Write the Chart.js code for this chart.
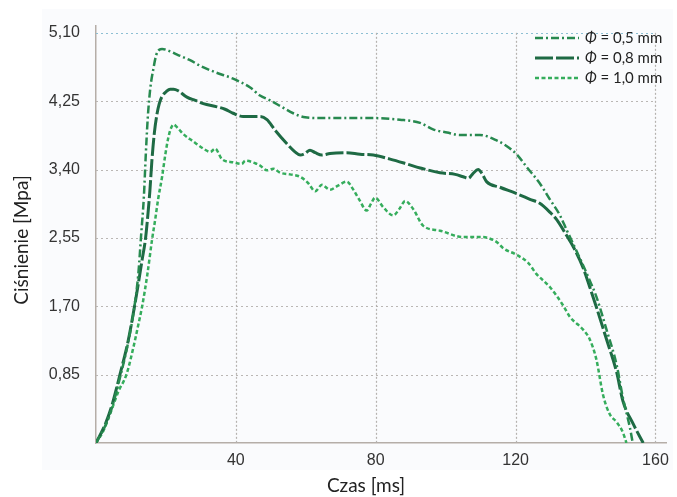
<!DOCTYPE html>
<html lang="pl">
<head>
<meta charset="utf-8">
<title>Ciśnienie</title>
<script src="https://cdn.jsdelivr.net/npm/chart.js@4.4.1/dist/chart.umd.min.js"></script>
<style>
  html, body { margin: 0; padding: 0; background: #fff; }
  #wrap { position: relative; width: 677px; height: 497px; }
</style>
</head>
<body>
<div id="wrap"><canvas id="pressureChart" width="677" height="497"></canvas></div>
<script>
// pressure curves, time in ms, pressure in MPa
var timeA = [0, 2.7, 4.7, 6.9, 9.2, 10.9, 12.1, 12.9, 13.7, 14.2, 14.8, 15.5, 16.4, 17.2, 18.1,
  18.9, 21.2, 23.2, 26.9, 29.8, 34.1, 39.2, 44.1, 46.9, 49.8, 52.7, 56.4, 59.8, 64.1, 71.2,
  79.2, 86.9, 92.7, 96.4, 100.4, 104.1, 109.8, 114.7, 117.5, 120.3, 123.2, 126.9, 129.8, 132.7,
  134.7, 137.5, 139.2, 141.2, 143.1, 146.0, 148.9, 150.7, 152.7, 153.5];
var pressureA = [0, 0.22, 0.46, 0.82, 1.25, 1.67, 2.10, 2.58, 3.07, 3.55, 4.04, 4.40, 4.65, 4.82, 4.89,
  4.90, 4.87, 4.83, 4.76, 4.69, 4.61, 4.53, 4.42, 4.32, 4.26, 4.19, 4.10, 4.05, 4.04, 4.04,
  4.04, 4.02, 3.98, 3.90, 3.86, 3.83, 3.83, 3.76, 3.69, 3.59, 3.43, 3.23, 3.03, 2.83,
  2.64, 2.38, 2.22, 2.02, 1.82, 1.41, 0.97, 0.56, 0.19, 0];

var timeB = [0, 2.7, 4.7, 6.9, 9.2, 10.9, 12.1, 13.2, 14.1, 14.7, 15.4, 16.0, 16.7, 17.4, 18.1,
  18.9, 20.1, 21.2, 22.2, 23.5, 26.0, 28.4, 30.7, 34.6, 36.9, 39.2, 42.1, 44.7, 46.9, 48.9,
  51.2, 54.6, 56.9, 58.4, 59.8, 61.2, 62.7, 64.6, 66.9, 71.7, 75.5, 79.3, 84.1, 88.9, 92.7,
  98.4, 102.7, 105.0, 106.5, 107.8, 109.3, 110.4, 111.7, 115.5, 120.3, 124.1, 126.9, 129.8, 131.7,
  134.6, 136.5, 139.3, 141.2, 143.1, 146.0, 148.9, 150.7, 153.6, 156.5];
var pressureB = [0, 0.24, 0.49, 0.86, 1.27, 1.67, 1.98, 2.28, 2.52, 2.77, 3.13, 3.52, 3.86, 4.08, 4.22,
  4.31, 4.37, 4.40, 4.40, 4.38, 4.30, 4.26, 4.22, 4.18, 4.15, 4.10, 4.06, 4.06, 4.06, 4.02,
  3.89, 3.72, 3.62, 3.58, 3.60, 3.64, 3.61, 3.58, 3.60, 3.61, 3.59, 3.58, 3.53, 3.47, 3.42,
  3.36, 3.34, 3.31, 3.29, 3.35, 3.40, 3.35, 3.25, 3.18, 3.10, 3.03, 2.98, 2.87, 2.78,
  2.58, 2.44, 2.18, 1.94, 1.69, 1.29, 0.88, 0.52, 0.24, 0];

var timeC = [0, 2.1, 4.1, 6.4, 8.7, 10.7, 12.1, 13.2, 14.7, 16.1, 16.9, 17.8, 18.9, 19.8, 20.7,
  21.5, 22.2, 23.5, 25.0, 27.8, 30.7, 32.7, 34.1, 36.0, 39.3, 41.7, 42.7, 46.0, 46.9, 48.9,
  50.7, 52.7, 55.5, 58.4, 60.7, 62.7, 64.6, 66.9, 69.2, 71.7, 73.6, 75.5, 77.4, 78.7, 79.8,
  82.2, 85.0, 86.9, 88.4, 90.7, 93.6, 98.4, 105.0, 110.7, 112.7, 114.6, 116.5, 120.3, 123.6, 126.0,
  129.8, 133.6, 135.5, 139.3, 141.2, 143.1, 145.0, 146.9, 148.9, 150.7, 151.7];
var pressureC = [0, 0.15, 0.37, 0.64, 0.85, 1.19, 1.47, 1.70, 2.10, 2.55, 2.77, 3.04, 3.31, 3.58, 3.80,
  3.92, 3.96, 3.91, 3.84, 3.75, 3.66, 3.62, 3.66, 3.53, 3.49, 3.47, 3.51, 3.47, 3.45, 3.39,
  3.41, 3.36, 3.34, 3.31, 3.23, 3.13, 3.21, 3.15, 3.20, 3.25, 3.15, 3.01, 2.89, 2.98, 3.05,
  2.93, 2.83, 2.92, 3.01, 2.91, 2.70, 2.64, 2.56, 2.56, 2.54, 2.50, 2.42, 2.34, 2.24, 2.10,
  1.94, 1.71, 1.57, 1.41, 1.29, 1.04, 0.60, 0.36, 0.26, 0.13, 0];

var diameters = ['0,5', '0,8', '1,0'];
var timeTicks = [40, 80, 120, 160];
var pressureTicks = [0.85, 1.70, 2.55, 3.40, 4.25, 5.10];

function toPoints(xs, ys) {
  return xs.map(function (t, i) { return { x: t, y: ys[i] }; });
}

function commaLabel(v, digits) {
  return v.toFixed(digits).replace('.', ',');
}

// light panel behind the plot
var plotBackground = {
  id: 'plotBackground',
  beforeDraw: function (chart) {
    var ctx = chart.ctx;
    ctx.save();
    ctx.fillStyle = '#fafbfd';
    ctx.fillRect(42, 9, 631, 461);
    ctx.restore();
  }
};

// dotted grid, limited to the 0..160 / 0..5,10 box
var dottedGrid = {
  id: 'dottedGrid',
  beforeDatasetsDraw: function (chart) {
    var ctx = chart.ctx, xs = chart.scales.x, ys = chart.scales.y;
    var x0 = xs.getPixelForValue(0), x1 = xs.getPixelForValue(160);
    var y0 = ys.getPixelForValue(0), y1 = ys.getPixelForValue(5.10);
    ctx.save();
    ctx.lineWidth = 1.2;
    ctx.setLineDash([2, 3]);
    pressureTicks.forEach(function (v, i) {
      var py = Math.round(ys.getPixelForValue(v)) + 0.5;
      ctx.strokeStyle = i === pressureTicks.length - 1 ? '#8dbfd3' : '#bab7b4';
      ctx.beginPath();
      ctx.moveTo(x0, py);
      ctx.lineTo(x1, py);
      ctx.stroke();
    });
    ctx.setLineDash([2, 2]);
    ctx.strokeStyle = '#b5b2af';
    timeTicks.forEach(function (v) {
      var px = Math.round(xs.getPixelForValue(v)) + 0.5;
      ctx.beginPath();
      ctx.moveTo(px, y1);
      ctx.lineTo(px, y0);
      ctx.stroke();
    });
    ctx.restore();
  }
};

// legend with italic Φ, drawn using each dataset's own line style
var curveLegend = {
  id: 'curveLegend',
  afterDatasetsDraw: function (chart) {
    var ctx = chart.ctx;
    ctx.save();
    chart.data.datasets.forEach(function (ds, i) {
      var y = 38 + i * 20;
      ctx.strokeStyle = ds.borderColor;
      ctx.lineWidth = ds.borderWidth;
      ctx.setLineDash(ds.borderDash);
      ctx.beginPath();
      ctx.moveTo(535, y);
      ctx.lineTo(579, y);
      ctx.stroke();
      ctx.setLineDash([]);
      ctx.fillStyle = '#222';
      ctx.textBaseline = 'middle';
      ctx.textAlign = 'left';
      ctx.font = 'italic 15px Lato';
      ctx.fillText('Φ', 585, y);
      var w = ctx.measureText('Φ').width;
      ctx.font = '15px Lato';
      ctx.fillText(' = ' + diameters[i] + ' mm', 585 + w, y);
    });
    ctx.restore();
  }
};

// axis titles
var axisTitles = {
  id: 'axisTitles',
  afterDraw: function (chart) {
    var ctx = chart.ctx;
    ctx.save();
    ctx.fillStyle = '#222';
    ctx.font = '19px Lato';
    ctx.textAlign = 'center';
    ctx.textBaseline = 'middle';
    ctx.fillText('Czas [ms]', 366, 486);
    ctx.translate(22, 240);
    ctx.rotate(-Math.PI / 2);
    ctx.fillText('Ciśnienie [Mpa]', 0, 0);
    ctx.restore();
  }
};

var tickFont = { family: 'Liberation Sans', size: 16 };

var config = {
  type: 'line',
  data: {
    datasets: [
      {
        label: 'Φ = 0,5 mm',
        data: toPoints(timeA, pressureA),
        borderColor: '#27894f',
        borderWidth: 2.5,
        borderDash: [8, 3, 2, 3]
      },
      {
        label: 'Φ = 0,8 mm',
        data: toPoints(timeB, pressureB),
        borderColor: '#1e6a44',
        borderWidth: 3,
        borderDash: [18, 3]
      },
      {
        label: 'Φ = 1,0 mm',
        data: toPoints(timeC, pressureC),
        borderColor: '#35ad5c',
        borderWidth: 2.5,
        borderDash: [4, 2.5]
      }
    ]
  },
  options: {
    responsive: false,
    animation: false,
    devicePixelRatio: 1,
    cubicInterpolationMode: 'monotone',
    elements: { point: { radius: 0 } },
    layout: { padding: { top: 15, right: 10, bottom: 0, left: 0 } },
    scales: {
      x: {
        type: 'linear',
        min: 0,
        max: 163.2,
        afterBuildTicks: function (scale) {
          scale.ticks = timeTicks.map(function (v) { return { value: v }; });
        },
        afterFit: function (scale) { scale.height = 54; },
        grid: { display: false, drawTicks: false },
        border: { display: true, color: '#b5aea8', width: 1.5 },
        ticks: {
          font: tickFont,
          color: '#333',
          padding: 8,
          maxRotation: 0,
          callback: function (v) { return String(v); }
        }
      },
      y: {
        type: 'linear',
        min: 0,
        max: 5.19,
        afterBuildTicks: function (scale) {
          scale.ticks = pressureTicks.map(function (v) { return { value: v }; });
        },
        afterFit: function (scale) { scale.width = 96; },
        grid: { display: false, drawTicks: false },
        border: { display: true, color: '#b5aea8', width: 1.5 },
        ticks: {
          font: tickFont,
          color: '#333',
          padding: 16,
          callback: function (v) { return commaLabel(v, 2); }
        }
      }
    },
    plugins: {
      legend: { display: false },
      tooltip: { enabled: false }
    }
  },
  plugins: [plotBackground, dottedGrid, curveLegend, axisTitles]
};

new Chart(document.getElementById('pressureChart').getContext('2d'), config);
</script>
</body>
</html>
